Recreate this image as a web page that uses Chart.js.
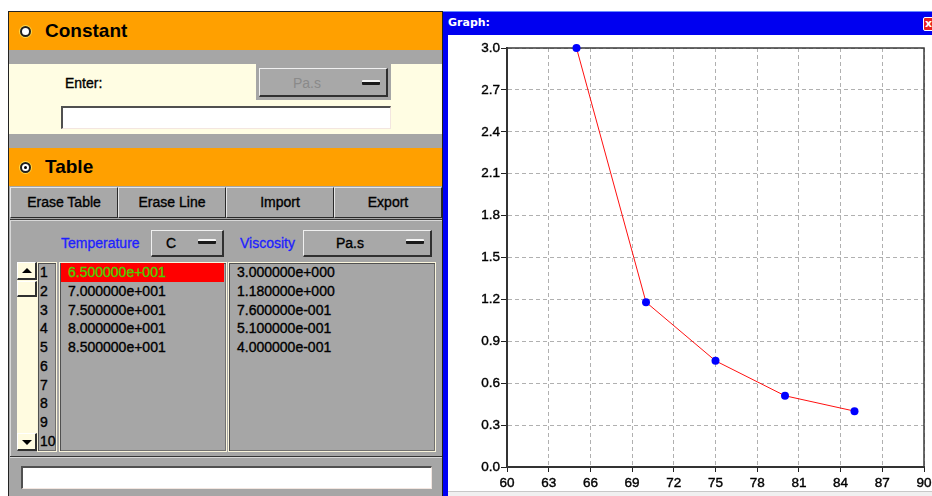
<!DOCTYPE html>
<html><head><meta charset="utf-8">
<script src="https://cdn.jsdelivr.net/npm/chart.js@4/dist/chart.umd.min.js"></script>
<style>
html,body{margin:0;padding:0;background:#fff;width:932px;height:496px;overflow:hidden;font-family:'Liberation Sans',Arial,sans-serif;}
.a{position:absolute;box-sizing:border-box;}
.orange{background:#ffa000;}
.hdr{font-weight:bold;font-size:19px;line-height:38px;color:#000;}
.radio{width:11px;height:11px;border-radius:50%;background:#fff;border:2px solid #202020;box-shadow:0 0 0 1px #ffd84a;}
.btn{background:#a8a8a8;border-top:1px solid #e6e6e6;border-left:1px solid #e6e6e6;border-right:1px solid #2a2a2a;border-bottom:1px solid #2a2a2a;text-align:center;font-size:14px;color:#000;-webkit-text-stroke:0.35px #000;}
.raised{background:#a8a8a8;border-top:1px solid #f0f0f0;border-left:1px solid #f0f0f0;border-right:2px solid #303030;border-bottom:2px solid #303030;}
.bar{width:18px;height:5px;background:#1a1a1a;border-top:2px solid #f4f4f4;border-radius:1px;}
.input{background:#fff;border-top:2px solid #505050;border-left:2px solid #505050;border-right:1px solid #f3e6e0;border-bottom:1px solid #f3e6e0;}
.col{background:#a6a6a6;border:1px solid #fbf6dc;box-shadow:inset 1px 1px 0 #505050, inset -1px -1px 0 #707070;}
.txt{font-size:14px;color:#000;white-space:nowrap;-webkit-text-stroke:0.35px currentColor;}
.blue{color:#1e1eff;font-size:14px;white-space:nowrap;-webkit-text-stroke:0.3px #1e1eff;}
</style></head><body>

<!-- left panel -->
<div class="a" style="left:8px;top:11px;width:435px;height:485px;background:#a6a6a6;border-left:1px solid #222;border-top:1px solid #222;"></div>
<div class="a orange" style="left:9px;top:12px;width:433px;height:38px;"></div>
<div class="a radio" style="left:20px;top:26px;"></div>
<div class="a hdr" style="left:45px;top:12px;">Constant</div>
<div class="a" style="left:9px;top:64px;width:433px;height:70px;background:#fffde3;"></div>
<div class="a txt" style="left:65px;top:74px;line-height:18px;">Enter:</div>
<div class="a" style="left:256px;top:64px;width:135px;height:36px;background:#a6a6a6;"></div>
<div class="a raised" style="left:259px;top:68px;width:129px;height:29px;"></div>
<div class="a" style="left:293px;top:74px;font-size:14px;line-height:18px;color:#8a8a8a;">Pa.s</div>
<div class="a bar" style="left:362px;top:80px;"></div>
<div class="a input" style="left:61px;top:106px;width:330px;height:23px;"></div>

<div class="a orange" style="left:9px;top:148px;width:433px;height:38px;"></div>
<div class="a radio" style="left:20px;top:162px;"></div>
<div class="a" style="left:24px;top:166px;width:3px;height:3px;border-radius:50%;background:#000;"></div>
<div class="a hdr" style="left:45px;top:148px;">Table</div>

<div class="a btn" style="left:10px;top:187px;width:108px;height:31px;line-height:29px;">Erase Table</div>
<div class="a btn" style="left:118px;top:187px;width:108px;height:31px;line-height:29px;">Erase Line</div>
<div class="a btn" style="left:226px;top:187px;width:108px;height:31px;line-height:29px;">Import</div>
<div class="a btn" style="left:334px;top:187px;width:108px;height:31px;line-height:29px;">Export</div>
<div class="a" style="left:10px;top:219px;width:432px;height:1px;background:#333;"></div>
<div class="a" style="left:10px;top:220px;width:432px;height:1px;background:#d8d8d8;"></div>
<div class="a" style="left:10px;top:220px;width:1px;height:236px;background:#d8d8d8;"></div>

<div class="a blue" style="left:61px;top:234px;line-height:18px;">Temperature</div>
<div class="a raised" style="left:151px;top:230px;width:73px;height:27px;"></div>
<div class="a txt" style="left:166px;top:234px;line-height:18px;">C</div>
<div class="a bar" style="left:198px;top:239px;"></div>
<div class="a blue" style="left:240px;top:234px;line-height:18px;">Viscosity</div>
<div class="a raised" style="left:303px;top:230px;width:129px;height:27px;"></div>
<div class="a txt" style="left:336px;top:234px;line-height:18px;">Pa.s</div>
<div class="a bar" style="left:406px;top:239px;"></div>

<!-- scrollbar -->
<div class="a" style="left:17px;top:262px;width:20px;height:189px;background:#fffbe0;"></div>
<div class="a" style="left:17px;top:262px;width:20px;height:18px;background:#fffbe0;border-right:2px solid #303030;border-bottom:2px solid #303030;border-top:1px solid #fff;border-left:1px solid #fff;"></div>
<div class="a" style="left:22px;top:268px;width:0;height:0;border-left:5px solid transparent;border-right:5px solid transparent;border-bottom:5px solid #000;"></div>
<div class="a" style="left:17px;top:281px;width:20px;height:16px;background:#fffbe0;border-right:2px solid #303030;border-bottom:2px solid #303030;border-top:1px solid #fff;border-left:1px solid #fff;"></div>
<div class="a" style="left:17px;top:433px;width:20px;height:18px;background:#fffbe0;border-right:2px solid #303030;border-bottom:2px solid #303030;border-top:1px solid #fff;border-left:1px solid #fff;"></div>
<div class="a" style="left:22px;top:440px;width:0;height:0;border-left:5px solid transparent;border-right:5px solid transparent;border-top:5px solid #000;"></div>

<div class="a col" style="left:37px;top:262px;width:20px;height:190px;"></div>
<div class="a col" style="left:59px;top:262px;width:168px;height:190px;"></div>
<div class="a col" style="left:228px;top:262px;width:208px;height:190px;"></div>
<div class="a" style="left:61px;top:263px;width:163px;height:19px;background:#ff0000;"></div>
<div id="rows"></div>

<div class="a" style="left:10px;top:456px;width:432px;height:1px;background:#333;"></div>
<div class="a" style="left:10px;top:457px;width:432px;height:1px;background:#d8d8d8;"></div>
<div class="a input" style="left:21px;top:466px;width:411px;height:23px;"></div>

<!-- graph window -->
<div class="a" style="left:442px;top:11px;width:1px;height:485px;background:#222;"></div>
<div class="a" style="left:443px;top:11px;width:5px;height:485px;background:#0000f4;"></div>
<div class="a" style="left:443px;top:11px;width:489px;height:24px;background:#0000f0;border-top:1px solid #6a8cff;"></div>
<div class="a" style="left:448px;top:11px;line-height:24px;font-family:'DejaVu Sans',sans-serif;font-weight:bold;font-size:11px;color:#fff;">Graph:</div>
<div class="a" style="left:923px;top:17px;width:12px;height:14px;background:#e82020;border:1px solid #fff;border-radius:2px;color:#fff;font:bold 11px 'DejaVu Sans';line-height:12px;padding-left:1px;">x</div>
<div class="a" style="left:448px;top:35px;width:484px;height:456px;background:#fff;"></div>
<div class="a" style="left:448px;top:491px;width:484px;height:1px;background:#c8c8c8;"></div>
<div class="a" style="left:448px;top:492px;width:484px;height:4px;background:#f0f0f0;"></div>
<canvas id="c" class="a" style="left:448px;top:35px;width:484px;height:456px;" width="484" height="456"></canvas>

<script>
const temperatures = [65, 70, 75, 80, 85];
const viscosity = [3.0, 1.18, 0.76, 0.51, 0.40];
const rowNumbers = [1, 2, 3, 4, 5, 6, 7, 8, 9, 10];
const xTickValues = [60, 63, 66, 69, 72, 75, 78, 81, 84, 87, 90];
const xTickLabels = ['60', '63', '66', '69', '72', '75', '78', '81', '84', '87', '90'];
const yTickValues = [0, 0.3, 0.6, 0.9, 1.2, 1.5, 1.8, 2.1, 2.4, 2.7, 3.0];
const yTickLabels = ['0.0', '0.3', '0.6', '0.9', '1.2', '1.5', '1.8', '2.1', '2.4', '2.7', '3.0'];

function fmt(v) {
  const s = v.toExponential(6);
  const [m, e] = s.split('e');
  const sign = e[0];
  const d = e.slice(1).padStart(3, '0');
  return m + 'e' + sign + d;
}

// table rows
const rowsEl = document.getElementById('rows');
let html = '';
const pitch = 18.7, first = 272.3;
rowNumbers.forEach((n, i) => {
  const cy = first + i * pitch;
  html += `<div class="a txt" style="left:40px;top:${cy - 9}px;line-height:18px;">${n}</div>`;
});
temperatures.forEach((t, i) => {
  const cy = first + i * pitch;
  const col = i === 0 ? '#4ad000' : '#000';
  html += `<div class="a txt" style="left:68px;top:${cy - 9}px;line-height:18px;color:${col};">${fmt(t)}</div>`;
});
viscosity.forEach((v, i) => {
  const cy = first + i * pitch;
  html += `<div class="a txt" style="left:237px;top:${cy - 9}px;line-height:18px;">${fmt(v)}</div>`;
});
rowsEl.innerHTML = html;

const frame = {
  id: 'frame',
  beforeDatasetsDraw(chart) {
    const {ctx, chartArea: a} = chart;
    ctx.save();
    ctx.strokeStyle = '#3a3a3a';
    ctx.lineWidth = 1.5;
    ctx.strokeRect(a.left, a.top, a.right - a.left, a.bottom - a.top);
    ctx.restore();
  }
};

const tickFont = {family: "'Liberation Sans', Arial, sans-serif", size: 13.5};

new Chart(document.getElementById('c'), {
  type: 'scatter',
  data: {
    datasets: [{
      data: temperatures.map((t, i) => ({x: t, y: viscosity[i]})),
      showLine: true,
      borderColor: '#ff1010',
      borderWidth: 1,
      pointBackgroundColor: '#0000ff',
      pointBorderColor: '#0000ff',
      pointBorderWidth: 0,
      pointRadius: 4,
      clip: false,
      tension: 0
    }]
  },
  options: {
    responsive: false,
    animation: false,
    devicePixelRatio: 1,
    layout: {padding: {top: 13, right: 8, left: 0, bottom: 0}},
    plugins: {legend: {display: false}, tooltip: {enabled: false}},
    scales: {
      x: {
        type: 'linear', min: 60, max: 90,
        afterBuildTicks: s => { s.ticks = xTickValues.map(v => ({value: v})); },
        afterFit: s => { s.height = 24; s.paddingLeft = 0; s.paddingRight = 0; },
        ticks: {
          autoSkip: false, maxRotation: 0, padding: 3, color: '#000', font: tickFont,
          textStrokeColor: '#000', textStrokeWidth: 0.4,
          callback: v => xTickLabels[xTickValues.indexOf(v)]
        },
        grid: {color: '#b0b0b0', lineWidth: 1, tickLength: 5, tickColor: '#222', tickWidth: 1},
        border: {display: true, color: '#222', width: 2, dash: [4, 3]}
      },
      y: {
        type: 'linear', min: 0, max: 3,
        afterBuildTicks: s => { s.ticks = yTickValues.map(v => ({value: v})); },
        afterFit: s => { s.width = 59; s.paddingTop = 0; s.paddingBottom = 0; },
        ticks: {
          autoSkip: false, padding: 1, color: '#000', font: tickFont,
          textStrokeColor: '#000', textStrokeWidth: 0.4,
          callback: (v) => yTickLabels[yTickValues.findIndex(t => Math.abs(t - v) < 1e-9)]
        },
        grid: {color: '#b0b0b0', lineWidth: 1, tickLength: 6, tickColor: '#222', tickWidth: 1},
        border: {display: true, color: '#222', width: 2, dash: [4, 3]}
      }
    }
  },
  plugins: [frame]
});
</script>
</body></html>
